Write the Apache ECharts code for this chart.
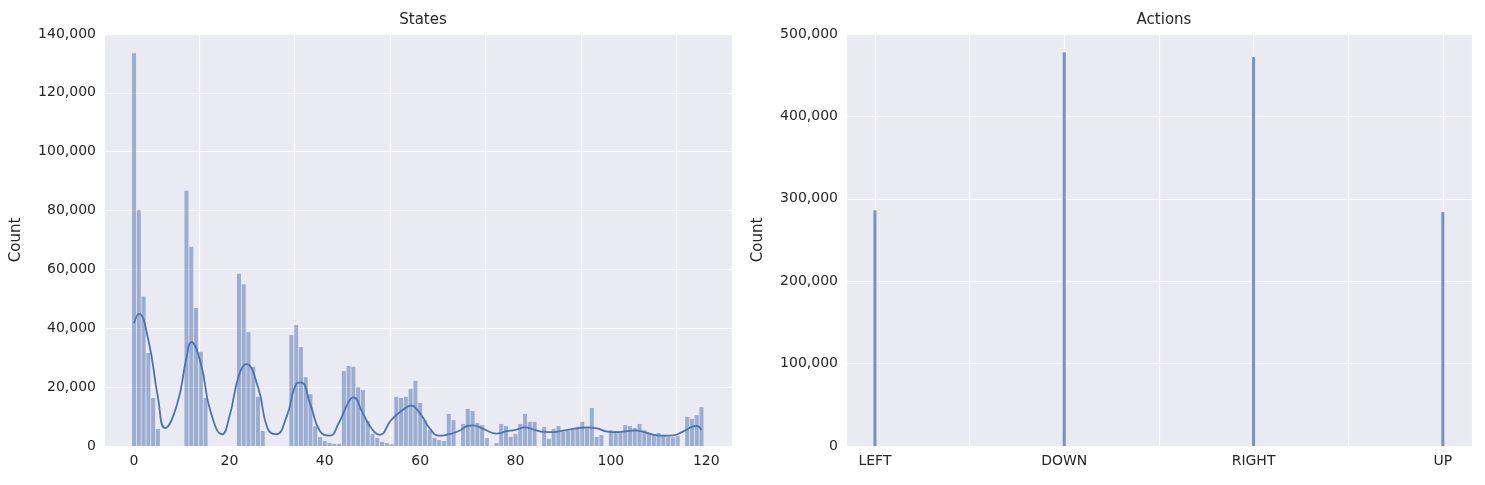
<!DOCTYPE html>
<html><head><meta charset="utf-8">
<script src="https://cdn.jsdelivr.net/npm/echarts@6/dist/echarts.min.js"></script>
<style>html,body{margin:0;padding:0;background:#fff}#c{width:1485px;height:485px}</style>
</head><body><div id="c"></div>
<script>
// States histogram: counts per state 0..119 (0 = empty)
const stateCounts = [
133500,80200,50800,31600,16300,5800,0,0,0,0,
0,86700,67700,46900,32000,16300,0,0,0,0,
0,0,58500,55000,38700,26900,16700,5100,0,0,
0,0,0,37700,41100,33600,23400,17600,6700,3000,
1700,1000,700,700,25500,27200,26900,20000,19000,8500,
4100,2700,1400,1000,600,16700,16300,16700,19400,22100,
14600,8800,5400,2700,2000,1700,10900,8800,0,7500,
12600,11900,7800,7100,2700,0,1000,7500,6800,3100,
4100,7500,10900,8200,8200,0,6500,2400,5800,6800,
4800,5100,5800,6500,8200,6100,12900,3100,3700,0,
5400,5100,5100,7100,6800,6100,7500,5400,4400,4100,
4400,3500,3200,3000,3500,0,9900,9200,10500,13200
];
// KDE curve: [state, density-scaled count]
const kdeX = [0,1,3,5,6.5,9,11,12,14,16,18.5,20,22,23.5,26,28,29.8,32,34,35,37,39,41,43,45,46,48,50,51.5,54,57,58,60,62,64,66,68,70,71,73,75,76,78,80,82,84,86,88,90,92,94,95,97,99,101,103,105,107,109,111,113,115,117,118,119];
const kdeY = [41800,44900,36000,16600,6100,14000,30000,35300,28000,12000,4000,10000,24000,27800,20000,6000,4000,10000,21000,21600,14000,5000,3500,8000,15000,16500,11000,5500,3800,9000,13000,13700,11000,6000,3500,4000,5000,6800,7000,6000,4500,4200,5000,5500,6300,5500,4800,4700,5200,5800,6200,6300,6000,5000,4700,5000,5300,4700,3800,3500,3600,4800,6500,6800,5500];
// Actions
const actionLabels = ['LEFT','DOWN','RIGHT','UP'];
const actionCounts = [286000,478000,472000,284000];

const stateData = stateCounts.map((v,i)=>[i,v]).filter(d=>d[1]>0);
const kdeData = kdeX.map((x,i)=>[x,kdeY[i]]);
const actionData = actionCounts.map((v,i)=>[i,v]);

const ax = {color:'#262626',fontSize:14,fontFamily:'DejaVu Sans'};
const split = {show:true,lineStyle:{color:'#fff',width:1.2}};
const chart = echarts.init(document.getElementById('c'));
chart.setOption({
  backgroundColor:'#fff',
  animation:false,
  title:[
    {text:'States',left:418,top:8,textAlign:'center',textStyle:{fontSize:15,fontWeight:'normal',color:'#262626',fontFamily:'DejaVu Sans'}},
    {text:'Actions',left:1159,top:8,textAlign:'center',textStyle:{fontSize:15,fontWeight:'normal',color:'#262626',fontFamily:'DejaVu Sans'}}
  ],
  grid:[
    {left:104,right:753,top:34,bottom:39,show:true,backgroundColor:'#eaeaf2',borderWidth:0},
    {left:846,right:13,top:34,bottom:39,show:true,backgroundColor:'#eaeaf2',borderWidth:0}
  ],
  xAxis:[
    {type:'value',gridIndex:0,min:-6.3,max:125.4,interval:20,axisLabel:Object.assign({},ax,{customValues:[0,20,40,60,80,100,120]}),
     axisTick:{show:false},axisLine:{show:false},splitLine:split},
    {type:'value',gridIndex:1,min:-0.153,max:3.154,axisLabel:Object.assign({},ax,{customValues:[0,1,2,3],formatter:v=>actionLabels[Math.round(v)]}),
     axisTick:{show:false},axisLine:{show:false},splitLine:{show:true,lineStyle:{color:'#fff',width:1.2},customValues:[0,1,2,3]}}
  ],
  yAxis:[
    {type:'value',gridIndex:0,min:0,max:140000,interval:20000,name:'Count',nameLocation:'middle',nameGap:80,nameTextStyle:{fontSize:15,color:'#262626',fontFamily:'DejaVu Sans'},
     axisLabel:ax,axisTick:{show:false},axisLine:{show:false},splitLine:split},
    {type:'value',gridIndex:1,min:0,max:500000,interval:100000,name:'Count',nameLocation:'middle',nameGap:80,nameTextStyle:{fontSize:15,color:'#262626',fontFamily:'DejaVu Sans'},
     axisLabel:ax,axisTick:{show:false},axisLine:{show:false},splitLine:split}
  ],
  series:[
    {type:'bar',xAxisIndex:0,yAxisIndex:0,data:stateData,barWidth:4,itemStyle:{color:'rgba(76,114,176,0.5)'}},
    {type:'line',xAxisIndex:0,yAxisIndex:0,data:kdeData,smooth:0.5,showSymbol:false,lineStyle:{color:'#4c72b0',width:1.8}},
    {type:'bar',xAxisIndex:1,yAxisIndex:1,data:actionData,barWidth:3,itemStyle:{color:'rgba(76,114,176,0.75)'}}
  ]
});
</script></body></html>
